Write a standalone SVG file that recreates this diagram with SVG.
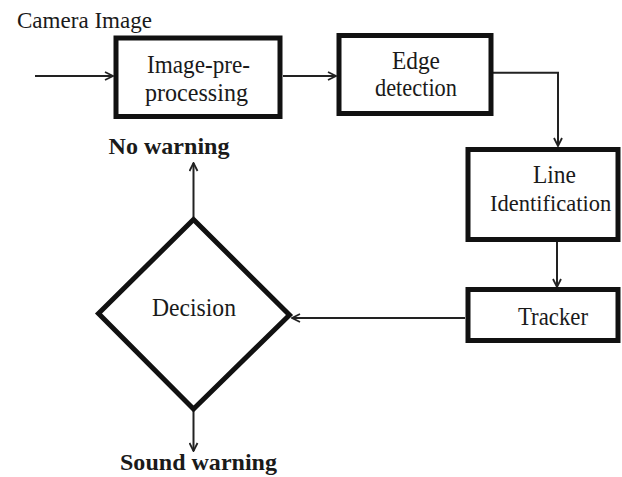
<svg xmlns="http://www.w3.org/2000/svg" width="622" height="477" viewBox="0 0 622 477">
  <defs>
    <style>
      .box { fill: #ffffff; stroke: #111111; stroke-width: 5; }
      .dia { fill: #ffffff; stroke: #111111; stroke-width: 5; stroke-linejoin: miter; }
      text { font-family: 'Liberation Serif', 'DejaVu Serif', serif; fill: #1a1a1a; }
      .lbl { font-size: 25.5px; }
      .cap { font-size: 24px; }
      .bold { font-size: 23px; font-weight: bold; }
      .wire { fill: none; stroke: #222222; stroke-width: 2; }
    </style>
    <marker id="arrow" viewBox="0 0 10 10" refX="9" refY="5" markerWidth="10" markerHeight="10" markerUnits="userSpaceOnUse" orient="auto">
      <path d="M1,1 L9,5 L1,9" fill="none" stroke="#222222" stroke-width="1.8"/>
    </marker>
  </defs>

  <g id="camera-image">
    <text class="cap" x="17" y="27.5" textLength="135" lengthAdjust="spacingAndGlyphs">Camera Image</text>
  </g>

  <g id="connectors">
    <line class="wire" x1="35" y1="76" x2="113" y2="76" marker-end="url(#arrow)"/>
    <line class="wire" x1="283" y1="76" x2="336" y2="76" marker-end="url(#arrow)"/>
    <polyline class="wire" points="493,72.7 558,72.7 558,146" marker-end="url(#arrow)"/>
    <line class="wire" x1="557" y1="242" x2="557" y2="287" marker-end="url(#arrow)"/>
    <line class="wire" x1="465" y1="318" x2="292" y2="318" marker-end="url(#arrow)"/>
    <line class="wire" x1="193.5" y1="217" x2="193.5" y2="163" marker-end="url(#arrow)"/>
    <line class="wire" x1="193.5" y1="411" x2="193.5" y2="451" marker-end="url(#arrow)"/>
  </g>

  <g id="preprocessing">
    <rect class="box" x="116" y="38" width="164" height="78.5"/>
    <text class="lbl" x="147" y="72.5" textLength="103" lengthAdjust="spacingAndGlyphs">Image-pre-</text>
    <text class="lbl" x="145" y="100.5" textLength="103" lengthAdjust="spacingAndGlyphs">processing</text>
  </g>

  <g id="edge-detection">
    <rect class="box" x="339" y="35.5" width="152" height="78"/>
    <text class="lbl" x="392" y="69" textLength="48" lengthAdjust="spacingAndGlyphs">Edge</text>
    <text class="lbl" x="375" y="96" textLength="82" lengthAdjust="spacingAndGlyphs">detection</text>
  </g>

  <g id="line-identification">
    <rect class="box" x="468" y="149.5" width="150" height="90"/>
    <text class="lbl" x="533" y="183" textLength="43" lengthAdjust="spacingAndGlyphs">Line</text>
    <text x="490" y="211" style="font-size:22.5px">Identification</text>
  </g>

  <g id="tracker">
    <rect class="box" x="468" y="289.5" width="150" height="51"/>
    <text class="lbl" x="518" y="325" textLength="70" lengthAdjust="spacingAndGlyphs">Tracker</text>
  </g>

  <g id="decision">
    <polygon class="dia" points="193.5,219.5 289.5,315 193.5,409 98.5,313.5"/>
    <text class="lbl" x="152" y="316" textLength="84" lengthAdjust="spacingAndGlyphs">Decision</text>
  </g>

  <g id="no-warning">
    <text class="bold" x="108.5" y="154" textLength="121" lengthAdjust="spacingAndGlyphs">No warning</text>
  </g>

  <g id="sound-warning">
    <text class="bold" x="120" y="470" textLength="157" lengthAdjust="spacingAndGlyphs">Sound warning</text>
  </g>
</svg>
